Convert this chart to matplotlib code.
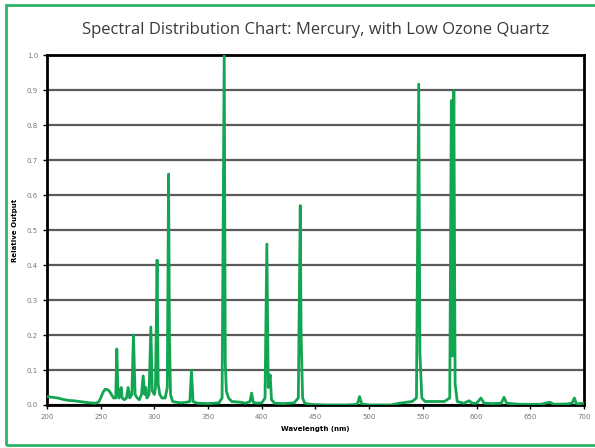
#!/usr/bin/env python3
"""Spectral distribution chart for a mercury lamp with low ozone quartz."""

import matplotlib
matplotlib.use('Agg')
import matplotlib.pyplot as plt
import matplotlib.patches as patches

# Spectrum (nm, relative output)
wavelength = [
    200, 205, 210, 215, 220, 225, 230, 235, 240, 245, 248, 250, 252, 254, 256,
    258, 260, 262, 264, 265, 266, 267, 268, 269, 270, 272, 274, 275.5, 277,
    279, 280.5, 282, 284, 286, 288, 289.5, 291, 292, 293, 295, 296.7, 298,
    300, 301, 302.5, 303.5, 305, 307, 310, 312, 313.2, 314, 315, 317, 320,
    325, 330, 333, 334.5, 336, 340, 350, 360, 363, 365, 366, 367, 369, 372,
    380, 385, 389, 390.5, 392, 395, 400, 403, 404.7, 406, 407.8, 409, 412,
    420, 430, 434, 435.8, 436.6, 438, 440, 445, 450, 460, 480, 489, 491, 493,
    500, 520, 528, 535, 540, 544, 546.1, 547.2, 549, 552, 560, 570, 575,
    576.5, 577.5, 578.8, 580, 582, 588, 593, 596, 600, 604, 607, 615, 623,
    625.5, 628, 640, 660, 668, 672, 685, 689, 691, 693, 700,
]
output = [
    0.024, 0.022, 0.020, 0.016, 0.013, 0.012, 0.010, 0.008, 0.006, 0.005,
    0.008, 0.020, 0.035, 0.045, 0.044, 0.040, 0.030, 0.020, 0.020, 0.160,
    0.040, 0.020, 0.030, 0.050, 0.020, 0.015, 0.020, 0.050, 0.020, 0.030,
    0.200, 0.030, 0.020, 0.015, 0.030, 0.083, 0.030, 0.050, 0.020, 0.030,
    0.223, 0.040, 0.030, 0.050, 0.414, 0.060, 0.030, 0.020, 0.020, 0.050,
    0.660, 0.200, 0.030, 0.010, 0.008, 0.006, 0.008, 0.010, 0.098, 0.010,
    0.005, 0.004, 0.006, 0.020, 1.000, 0.120, 0.040, 0.020, 0.010, 0.008,
    0.005, 0.010, 0.034, 0.008, 0.005, 0.006, 0.020, 0.460, 0.050, 0.086,
    0.015, 0.005, 0.004, 0.006, 0.020, 0.570, 0.200, 0.020, 0.005, 0.002,
    0.001, 0.000, 0.000, 0.002, 0.024, 0.003, 0.000, 0.000, 0.005, 0.008,
    0.010, 0.020, 0.917, 0.150, 0.020, 0.010, 0.010, 0.010, 0.020, 0.870,
    0.140, 0.898, 0.060, 0.010, 0.005, 0.012, 0.005, 0.005, 0.020, 0.005,
    0.004, 0.005, 0.022, 0.005, 0.002, 0.002, 0.008, 0.002, 0.003, 0.006,
    0.020, 0.003, 0.005,
]

x_ticks = list(range(200, 701, 50))
y_ticks = [i / 10 for i in range(11)]

GREEN = '#12a552'

fig = plt.figure(figsize=(5.95, 4.48), dpi=100)
ax = fig.add_axes([0.079, 0.096, 0.9025, 0.781])

# Green frame round the whole chart (runs off the right edge)
frame = patches.Rectangle((6 / 595, 3 / 448), 1.05, 440 / 448,
                          transform=fig.transFigure, fill=False,
                          edgecolor='#2db36a', linewidth=2, clip_on=False)
fig.add_artist(frame)

ax.plot(wavelength, output, color=GREEN, linewidth=2, zorder=3)

ax.set_xlim(200, 700)
ax.set_ylim(0, 1.0)
ax.set_xticks(x_ticks)
ax.set_yticks(y_ticks)
ax.set_yticklabels([f'{v:.1f}' for v in y_ticks])
ax.tick_params(axis='both', direction='out', length=3, width=1,
               labelsize=5, colors='black')
for lab in ax.get_xticklabels() + ax.get_yticklabels():
    lab.set_color('#777777')

ax.yaxis.grid(True, color='#5a5a5a', linewidth=1.6, zorder=1)
ax.set_axisbelow(True)
for side in ax.spines.values():
    side.set_linewidth(2)
    side.set_color('black')

ax.set_xlabel('Wavelength (nm)', fontsize=5, fontweight='bold', labelpad=4)
ax.set_ylabel('Relative Output', fontsize=5, fontweight='bold', labelpad=6)

fig.text(0.53, 0.933, 'Spectral Distribution Chart: Mercury, with Low Ozone Quartz',
         ha='center', va='center', fontsize=12, color='#3a3a3a',
         family=['Open Sans', 'DejaVu Sans'])

fig.savefig('out.png', dpi=100)
